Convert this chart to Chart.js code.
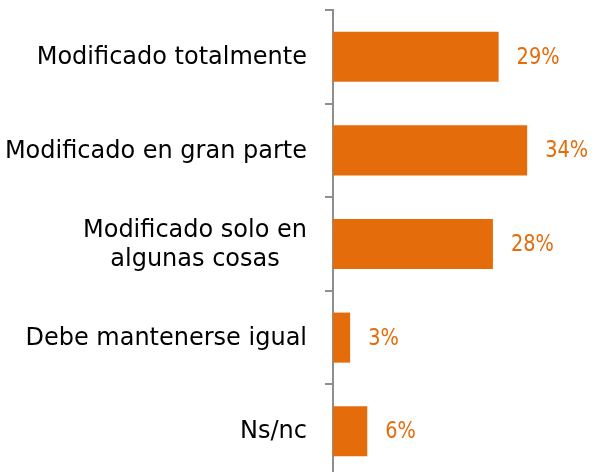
<!DOCTYPE html>
<html>
<head>
<meta charset="utf-8">
<script src="https://cdn.jsdelivr.net/npm/chart.js@4"></script>
<style>
html,body{margin:0;padding:0;background:#fff;overflow:hidden;}
canvas{display:block;}
</style>
</head>
<body>
<canvas id="c" width="592" height="480"></canvas>
<script>
const categories = [
  "Modificado totalmente",
  "Modificado en gran parte",
  ["Modificado solo en", "algunas cosas"],
  "Debe mantenerse igual",
  "Ns/nc"
];
const values = [29, 34, 28, 3, 6];
const valueLabels = ["29%", "34%", "28%", "3%", "6%"];

const ORANGE = "#E46C0A";
const FONT = "'DejaVu Sans', sans-serif";

const labelPlugin = {
  id: "customLabels",
  afterDraw(chart) {
    const ctx = chart.ctx;
    const y = chart.scales.y;
    ctx.save();
    ctx.font = "24px " + FONT;
    ctx.fillStyle = "#000";
    ctx.textBaseline = "middle";
    ctx.textAlign = "center";
    const right = chart.chartArea.left - 26;
    const lh = 29;
    categories.forEach((lab, i) => {
      const lines = Array.isArray(lab) ? lab : [lab];
      const maxW = Math.max(...lines.map(l => ctx.measureText(l).width));
      const cx = right - maxW / 2;
      const cy = y.getPixelForTick(i) + 1;
      const y0 = cy - (lines.length - 1) * lh / 2;
      lines.forEach((l, k) => ctx.fillText(l, cx, y0 + k * lh));
    });
    // value labels (slightly narrow face, as in the reference)
    const meta = chart.getDatasetMeta(0);
    ctx.font = "23px " + FONT;
    ctx.fillStyle = ORANGE;
    ctx.textAlign = "left";
    meta.data.forEach((el, i) => {
      ctx.save();
      ctx.translate(el.x + 18, el.y + 1);
      ctx.scale(0.84, 1);
      ctx.fillText(valueLabels[i], 0, 0);
      ctx.restore();
    });
    ctx.restore();
  }
};

new Chart(document.getElementById("c"), {
  type: "bar",
  data: {
    labels: categories,
    datasets: [{
      data: values,
      backgroundColor: ORANGE,
      borderWidth: 0,
      categoryPercentage: 1,
      barPercentage: 0.535
    }]
  },
  options: {
    indexAxis: "y",
    responsive: false,
    animation: false,
    layout: { padding: { top: 10, bottom: 2, right: 2, left: 0 } },
    plugins: { legend: { display: false }, tooltip: { enabled: false } },
    scales: {
      x: {
        display: false,
        min: 0,
        max: 45
      },
      y: {
        afterFit(scale) { scale.width = 333; },
        ticks: { display: false },
        grid: {
          offset: true,
          drawOnChartArea: false,
          drawTicks: true,
          tickLength: 8,
          color: "#8e8e8e",
          lineWidth: 2
        },
        border: { display: true, color: "#8e8e8e", width: 2 }
      }
    }
  },
  plugins: [labelPlugin]
});
</script>
</body>
</html>
